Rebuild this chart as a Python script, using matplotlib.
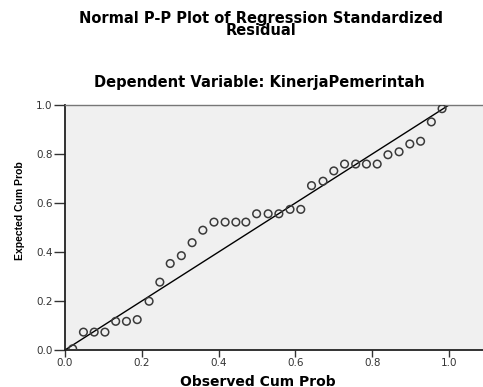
import matplotlib
matplotlib.use("Agg")
import matplotlib.pyplot as plt

# observed vs expected cumulative probability
observed = [0.020, 0.048, 0.076, 0.104, 0.132, 0.160, 0.188, 0.219, 0.247, 0.274,
            0.303, 0.331, 0.359, 0.388, 0.417, 0.445, 0.471, 0.499, 0.529, 0.557,
            0.586, 0.614, 0.642, 0.672, 0.700, 0.728, 0.757, 0.785, 0.813, 0.841,
            0.870, 0.898, 0.926, 0.954, 0.982]
expected = [0.005, 0.073, 0.073, 0.073, 0.117, 0.117, 0.124, 0.199, 0.277, 0.353,
            0.385, 0.438, 0.489, 0.522, 0.522, 0.522, 0.522, 0.556, 0.556, 0.556,
            0.574, 0.574, 0.671, 0.689, 0.731, 0.759, 0.759, 0.759, 0.759, 0.797,
            0.809, 0.841, 0.852, 0.931, 0.985]
ticks = [0.0, 0.2, 0.4, 0.6, 0.8, 1.0]
tick_labels = ["0.0", "0.2", "0.4", "0.6", "0.8", "1.0"]

fig = plt.figure(figsize=(4.83, 3.87), dpi=100)
ax = fig.add_axes([65/483, 1-350/387, 1-65/483, (350-105)/387])
ax.set_facecolor("#f0f0f0")

#diagonal reference line
ax.plot([0, 1], [0, 1], color="black", lw=1.0, zorder=2)
ax.scatter(observed, expected, s=30, facecolors="none", edgecolors="#3a3a3a",
           linewidths=1.1, zorder=3)

ax.set_xlim(0, 418/384)
ax.set_ylim(0, 1)
ax.set_xticks(ticks)
ax.set_xticklabels(tick_labels)
ax.set_yticks(ticks)
ax.set_yticklabels(tick_labels)

for s in ["left", "bottom"]:
    ax.spines[s].set_color("#222222")
    ax.spines[s].set_linewidth(1.3)
ax.spines["top"].set_color("#777777")
ax.spines["top"].set_linewidth(1.0)
ax.spines["right"].set_visible(False)

ax.tick_params(axis="y", direction="out", length=8, width=1, color="#333333",
               labelsize=7.5, labelcolor="#333333", pad=1)
ax.tick_params(axis="x", direction="out", length=5, width=1, color="#333333",
               labelsize=7.5, labelcolor="#333333", pad=1)
for lab in ax.get_xticklabels() + ax.get_yticklabels():
    lab.set_family("DejaVu Sans")

ax.set_xlabel("Observed Cum Prob", fontsize=10, fontweight="bold",
              family="DejaVu Sans")
ax.xaxis.set_label_coords(0.462, -0.1)
ax.set_ylabel("Expected Cum Prob", fontsize=7.5, fontweight="bold",
              family="Liberation Sans")
ax.yaxis.set_label_coords(-0.095, 0.567)

fig.text(0.54, 0.972, "Normal P-P Plot of Regression Standardized\nResidual",
         ha="center", va="top", fontsize=10.5, fontweight="bold",
         family="DejaVu Sans", linespacing=0.8)
fig.text(0.538, 0.788, "Dependent Variable: KinerjaPemerintah", ha="center",
         va="center", fontsize=10.5, fontweight="bold", family="DejaVu Sans")

fig.savefig("out.png", dpi=100)
